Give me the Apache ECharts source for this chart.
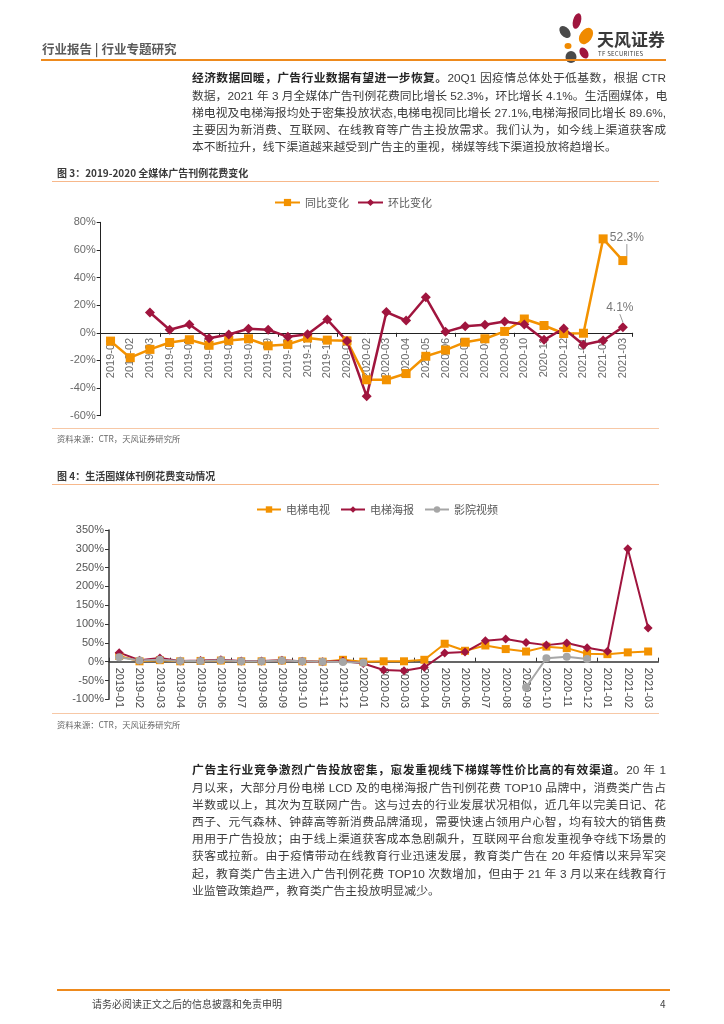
<!DOCTYPE html>
<html><head><meta charset="utf-8">
<script src="https://cdn.jsdelivr.net/npm/echarts/dist/echarts.min.js"></script>
<style>
html,body{margin:0;padding:0;background:#fff;}
#page{position:relative;width:724px;height:1024px;overflow:hidden;font-family:"Noto Sans CJK SC","Liberation Sans",sans-serif;}
#c{position:absolute;left:0;top:0;width:724px;height:1024px;}
.t{position:absolute;white-space:nowrap;}
.para{position:absolute;left:192px;width:474px;font-size:11.8px;line-height:17.2px;color:#3c3c3c;font-family:"Liberation Sans","Noto Sans CJK SC",sans-serif;}
.para div{text-align:justify;text-align-last:justify;height:17.2px;white-space:nowrap;}
.para div.last{text-align-last:left;}
.para b{color:#262626;}
.rule{position:absolute;height:0;}
</style></head>
<body>
<div id="page">
<div id="c"></div>

<div class="t" style="left:42px;top:40px;font-size:12.5px;font-weight:bold;color:#5a5a5a;line-height:18px;">行业报告 | 行业专题研究</div>
<svg style="position:absolute;left:552px;top:10px;" width="50" height="56" viewBox="0 0 50 56">
  <ellipse cx="25" cy="11" rx="4" ry="8" fill="#a0153e" transform="rotate(15 25 11)"/>
  <ellipse cx="13" cy="22" rx="4.5" ry="7" fill="#4a4a4a" transform="rotate(-40 13 22)"/>
  <ellipse cx="34" cy="26" rx="6" ry="9" fill="#f08a00" transform="rotate(35 34 26)"/>
  <ellipse cx="16" cy="36" rx="3.5" ry="3" fill="#f08a00"/>
  <ellipse cx="19" cy="47" rx="5.5" ry="6" fill="#4a4a4a"/>
  <ellipse cx="32" cy="43" rx="4" ry="6" fill="#a0153e" transform="rotate(-30 32 43)"/>
</svg>
<div class="t" style="left:597px;top:28px;font-size:17px;font-weight:bold;color:#3a3a3a;line-height:22px;">天风证券</div>
<div class="t" style="left:598px;top:50px;font-size:6px;color:#3a3a3a;line-height:8px;letter-spacing:0.3px;">TF SECURITIES</div>
<div class="rule" style="left:41px;top:59px;width:625px;border-top:2px solid #ee8a1d;"></div>

<div class="para" style="top:70.4px;">
<div><b>经济数据回暖，广告行业数据有望进一步恢复。</b>20Q1 因疫情总体处于低基数，根据 CTR</div>
<div>数据，2021 年 3 月全媒体广告刊例花费同比增长 52.3%，环比增长 4.1%。生活圈媒体，电</div>
<div>梯电视及电梯海报均处于密集投放状态,电梯电视同比增长 27.1%,电梯海报同比增长 89.6%,</div>
<div>主要因为新消费、互联网、在线教育等广告主投放需求。我们认为，如今线上渠道获客成</div>
<div class="last">本不断拉升，线下渠道越来越受到广告主的重视，梯媒等线下渠道投放将趋增长。</div>
</div>

<div class="t" style="left:57px;top:166px;font-size:10px;font-weight:bold;color:#3a3a3a;line-height:14px;">图 3：2019-2020 全媒体广告刊例花费变化</div>
<div class="rule" style="left:52px;top:181px;width:607px;border-top:1.5px solid #f7b88b;"></div>
<div class="rule" style="left:52px;top:428px;width:607px;border-top:1.5px solid #f7c8a6;"></div>
<div class="t" style="left:57px;top:432px;font-size:8.3px;color:#666;line-height:12px;">资料来源：CTR，天风证券研究所</div>

<div class="t" style="left:57px;top:469px;font-size:10px;font-weight:bold;color:#3a3a3a;line-height:14px;">图 4：生活圈媒体刊例花费变动情况</div>
<div class="rule" style="left:52px;top:484px;width:607px;border-top:1.5px solid #f7b88b;"></div>
<div class="rule" style="left:52px;top:713px;width:607px;border-top:1.5px solid #f7c8a6;"></div>
<div class="t" style="left:57px;top:718px;font-size:8.3px;color:#666;line-height:12px;">资料来源：CTR，天风证券研究所</div>

<div class="para" style="top:762.4px;">
<div><b>广告主行业竞争激烈广告投放密集，愈发重视线下梯媒等性价比高的有效渠道。</b>20 年 1</div>
<div>月以来，大部分月份电梯 LCD 及的电梯海报广告刊例花费 TOP10 品牌中，消费类广告占</div>
<div>半数或以上，其次为互联网广告。这与过去的行业发展状况相似，近几年以完美日记、花</div>
<div>西子、元气森林、钟薛高等新消费品牌涌现，需要快速占领用户心智，均有较大的销售费</div>
<div>用用于广告投放；由于线上渠道获客成本急剧飙升，互联网平台愈发重视争夺线下场景的</div>
<div>获客或拉新。由于疫情带动在线教育行业迅速发展，教育类广告在 20 年疫情以来异军突</div>
<div>起，教育类广告主进入广告刊例花费 TOP10 次数增加，但由于 21 年 3 月以来在线教育行</div>
<div class="last">业监管政策趋严，教育类广告主投放明显减少。</div>
</div>

<div class="rule" style="left:57px;top:989px;width:613px;border-top:2px solid #ee8a1d;"></div>
<div class="t" style="left:92px;top:997px;font-size:10px;color:#444;line-height:14px;">请务必阅读正文之后的信息披露和免责申明</div>
<div class="t" style="left:660px;top:997px;font-size:10px;color:#444;line-height:14px;">4</div>
</div>

<script>
// ---- data ----
const months = ['2019-01','2019-02','2019-03','2019-04','2019-05','2019-06','2019-07','2019-08','2019-09','2019-10','2019-11','2019-12',
  '2020-01','2020-02','2020-03','2020-04','2020-05','2020-06','2020-07','2020-08','2020-09','2020-10','2020-11','2020-12',
  '2021-01','2021-02','2021-03'];
// Figure 3: all-media ad spend, YoY and MoM (%)
const allMediaYoY = [-6,-18,-12,-7,-5,-9,-5.5,-4.3,-9.4,-8.4,-3.8,-5.3,
  -5.8,-34,-34,-29.5,-17,-12.5,-6.8,-4.3,1,10,5.3,-0.5,
  -0.3,68,52.3];
const allMediaMoM = [null,null,14.7,2.2,6,-3.9,-1.2,2.9,2.2,-2.9,-1,9.6,
  -6,-46,15,8.9,25.7,0.7,4.8,5.8,8.2,6,-5.1,3.1,
  -8.7,-5.6,4.1];
// Figure 4: life-circle media YoY (%)
const elevatorTV = [15,1,4,1,2,3,1,1,3,1,0,5,
  0,1,1,5,47.7,29,43,33.5,27,40,36,21,
  20,24.7,27.1];
const elevatorPoster = [24,4,10,2,3,5,2,2,4,1,0,2,
  -5,-22,-24,-15,23,25.6,55.6,60,51,44,49.5,37,
  28,300,89.6];
const cinemaVideo = [12,3,5,2,2,4,1,1,3,1,0,-1,
  -3,null,null,null,null,null,null,null,-68,9,13,7,
  null,null,null];
const legend3 = ['同比变化','环比变化'];
const legend4 = ['电梯电视','电梯海报','影院视频'];
const range3 = [-60, 80, 20];
const range4 = [-100, 350, 50];

const ORANGE = '#f39200', CRIMSON = '#a0153e', GRAY = '#a6a6a6';
const font = '"Liberation Sans","Noto Sans CJK SC",sans-serif';

// grid geometry
const g3 = {left:100.7, right:91.3, top:222.3, bottom:608.3};
const g4 = {left:109, right:65.7, top:530, bottom:324.7};
const h3 = 1024 - g3.top - g3.bottom;
const h4 = 1024 - g4.top - g4.bottom;
// offset that brings a bottom label-axis up to the zero line
const zeroOff3 = -((0 - range3[0]) / (range3[1] - range3[0])) * h3;
const zeroOff4 = -((0 - range4[0]) / (range4[1] - range4[0])) * h4;

function lastLabelled(arr){
  const last = arr.length - 1;
  return arr.map((v,i)=> i===last ? {value:v, label:{show:true}} : v);
}

const chart = echarts.init(document.getElementById('c'), null, {renderer:'canvas'});
const option = {
  animation:false,
  textStyle:{fontFamily:font},
  legend:[
    {data:legend3, left:269, top:192, itemWidth:25, itemHeight:9, itemGap:8,
     textStyle:{fontSize:11, color:'#595959', fontFamily:'"Noto Sans CJK SC",sans-serif'}},
    {data:legend4, left:251, top:499, itemWidth:24, itemHeight:8, itemGap:10,
     textStyle:{fontSize:11, color:'#595959', fontFamily:'"Noto Sans CJK SC",sans-serif'}}
  ],
  grid:[g3, g4],
  xAxis:[
    {gridIndex:0, type:'category', data:months,
     axisLine:{onZero:true, lineStyle:{color:'#222', width:1}},
     axisTick:{show:true, length:4, lineStyle:{color:'#222'}},
     axisLabel:{show:false}},
    {gridIndex:1, type:'category', data:months,
     axisLine:{onZero:true, lineStyle:{color:'#333', width:1.5}},
     axisTick:{show:true, inside:true, length:4, lineStyle:{color:'#333'}},
     axisLabel:{show:false}},
    // label-only axes sitting on the zero line
    {gridIndex:0, type:'category', data:months, position:'bottom', offset:zeroOff3,
     axisLine:{show:false}, axisTick:{show:false},
     axisLabel:{rotate:90, interval:0, fontSize:11, color:'#6a6a6a', margin:5}},
    {gridIndex:1, type:'category', data:months, position:'bottom', offset:zeroOff4,
     axisLine:{show:false}, axisTick:{show:false},
     axisLabel:{rotate:-90, interval:0, fontSize:11, color:'#4a4a4a', margin:6}}
  ],
  yAxis:[
    {gridIndex:0, type:'value', min:range3[0], max:range3[1], interval:range3[2],
     axisLine:{show:true, lineStyle:{color:'#222'}},
     axisTick:{show:true, length:4, lineStyle:{color:'#222'}},
     splitLine:{show:false},
     axisLabel:{formatter:'{value}%', fontSize:11, color:'#6a6a6a', margin:5}},
    {gridIndex:1, type:'value', min:range4[0], max:range4[1], interval:range4[2],
     axisLine:{show:true, lineStyle:{color:'#333', width:1.5}},
     axisTick:{show:true, length:4, lineStyle:{color:'#333'}},
     splitLine:{show:false},
     axisLabel:{formatter:'{value}%', fontSize:11, color:'#555', margin:5}}
  ],
  series:[
    {name:legend3[0], type:'line', xAxisIndex:0, yAxisIndex:0, data:lastLabelled(allMediaYoY),
     symbol:'rect', symbolSize:9, itemStyle:{color:ORANGE}, lineStyle:{color:ORANGE, width:2.5},
     label:{show:false, position:'top', distance:5, fontSize:12, color:'#777', formatter:p=>p.value+'%'},
     labelLayout:{dx:4, dy:-7},
     labelLine:{show:true, lineStyle:{color:'#999', width:1}}},
    {name:legend3[1], type:'line', xAxisIndex:0, yAxisIndex:0, data:lastLabelled(allMediaMoM),
     symbol:'diamond', symbolSize:10, itemStyle:{color:CRIMSON}, lineStyle:{color:CRIMSON, width:2.5},
     label:{show:false, position:'top', distance:5, fontSize:12, color:'#777', formatter:p=>p.value+'%'},
     labelLayout:{dx:-3, dy:-3},
     labelLine:{show:true, lineStyle:{color:'#999', width:1}}},
    {name:legend4[0], type:'line', xAxisIndex:1, yAxisIndex:1, data:elevatorTV,
     symbol:'rect', symbolSize:8, itemStyle:{color:ORANGE}, lineStyle:{color:ORANGE, width:2}},
    {name:legend4[1], type:'line', xAxisIndex:1, yAxisIndex:1, data:elevatorPoster,
     symbol:'diamond', symbolSize:9, itemStyle:{color:CRIMSON}, lineStyle:{color:CRIMSON, width:2}},
    {name:legend4[2], type:'line', xAxisIndex:1, yAxisIndex:1, data:cinemaVideo,
     symbol:'circle', symbolSize:8, itemStyle:{color:GRAY}, lineStyle:{color:GRAY, width:2}}
  ]
};
chart.setOption(option);
</script>
</body></html>
